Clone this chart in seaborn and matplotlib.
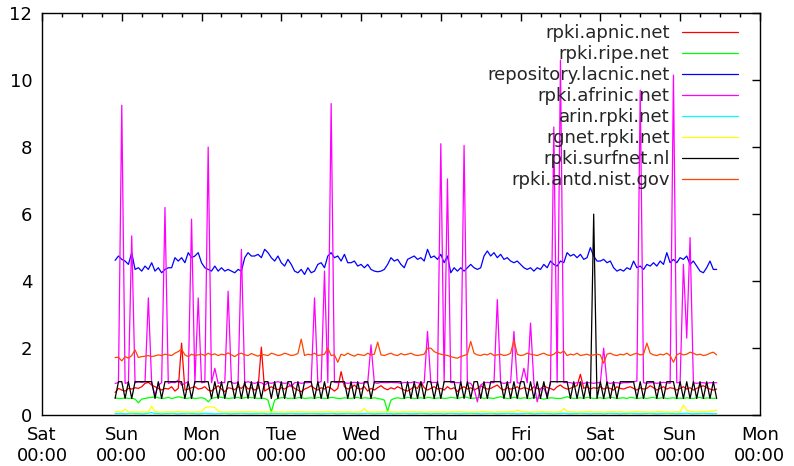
import pandas as pd
import seaborn as sns
import matplotlib.pyplot as plt
import matplotlib.dates as mdates

# hourly samples, Sat 22:00 -> Sun 11:00 of the next week (182 points)
START = "2014-03-01 22:00"

hosts = [
    "rpki.apnic.net",
    "rpki.ripe.net",
    "repository.lacnic.net",
    "rpki.afrinic.net",
    "arin.rpki.net",
    "rgnet.rpki.net",
    "rpki.surfnet.nl",
    "rpki.antd.nist.gov",
]
colors = ["#ff0000", "#00ff00", "#0000ff", "#ff00ff",
          "#00ffff", "#ffff00", "#000000", "#ff4500"]

apnic = [
    0.68, 0.8,
    0.75, 0.72, 0.8, 0.78, 0.82, 0.8, 0.85, 0.95, 0.98, 0.9, 0.85, 0.8,
    0.75, 0.8, 0.78, 0.85, 0.72, 0.8, 2.15, 0.75, 0.78, 0.82, 0.85, 0.78,
    0.8, 0.85, 0.75, 0.72, 0.8, 0.88, 0.78, 0.7, 0.82, 0.8, 0.76, 0.85,
    0.8, 0.9, 0.78, 0.82, 0.75, 0.8, 2.03, 0.72, 0.78, 0.85, 0.8, 0.76,
    0.82, 0.78, 0.85, 0.9, 0.8, 0.75, 0.7, 0.78, 0.82, 0.88, 0.8, 0.75,
    0.82, 0.78, 0.85, 0.8, 0.72, 0.8, 1.3, 0.85, 0.78, 0.82, 0.9, 0.8,
    0.78, 0.85, 0.72, 0.8, 0.75, 0.82, 0.88, 0.8, 0.76, 0.82, 0.78, 0.85,
    0.8, 0.75, 0.72, 0.78, 0.85, 0.8, 1.0, 0.82, 0.75, 0.8, 0.85, 0.78,
    0.8, 0.75, 0.85, 0.78, 0.82, 0.7, 0.8, 0.85, 0.78, 0.82, 0.75, 0.8,
    0.88, 0.82, 0.78, 0.8, 0.85, 0.9, 0.8, 0.75, 0.82, 0.78, 0.8, 0.85,
    0.78, 0.82, 0.8, 0.75, 0.85, 0.8, 0.78, 0.88, 0.82, 0.8, 0.75, 0.85,
    0.9, 0.82, 0.78, 0.8, 0.85, 0.88, 1.22, 0.8, 0.85, 0.78, 0.82, 0.8,
    0.85, 0.78, 0.82, 0.8, 0.75, 0.85, 0.8, 0.78, 0.82, 0.85, 0.8, 0.75,
    0.82, 0.78, 0.8, 0.88, 0.82, 0.75, 0.8, 0.85, 0.78, 0.82, 0.8, 0.75,
    0.8, 0.85, 0.78, 0.82, 0.75, 0.8, 0.85, 0.88, 0.82, 0.78, 0.75, 0.78,
]

ripe = [
    0.52, 0.5,
    0.5, 0.52, 0.5, 0.51, 0.48, 0.37, 0.48, 0.5, 0.52, 0.53, 0.55, 0.52,
    0.5, 0.51, 0.53, 0.5, 0.52, 0.55, 0.53, 0.5, 0.51, 0.52, 0.5, 0.51,
    0.52, 0.5, 0.4, 0.5, 0.52, 0.55, 0.53, 0.52, 0.5, 0.51, 0.52, 0.53,
    0.5, 0.52, 0.54, 0.52, 0.52, 0.5, 0.51, 0.5, 0.45, 0.1, 0.45, 0.5,
    0.52, 0.53, 0.5, 0.51, 0.5, 0.52, 0.53, 0.5, 0.51, 0.52, 0.5, 0.53,
    0.52, 0.5, 0.51, 0.53, 0.52, 0.5, 0.5, 0.52, 0.51, 0.5, 0.52, 0.53,
    0.5, 0.52, 0.51, 0.5, 0.52, 0.5, 0.48, 0.45, 0.12, 0.45, 0.5, 0.52,
    0.5, 0.51, 0.53, 0.52, 0.5, 0.51, 0.52, 0.5, 0.53, 0.52, 0.5, 0.51,
    0.52, 0.5, 0.51, 0.53, 0.52, 0.5, 0.52, 0.55, 0.53, 0.5, 0.51, 0.52,
    0.53, 0.5, 0.52, 0.51, 0.5, 0.53, 0.55, 0.52, 0.5, 0.51, 0.53, 0.52,
    0.5, 0.52, 0.51, 0.5, 0.53, 0.52, 0.5, 0.48, 0.5, 0.52, 0.51, 0.5,
    0.5, 0.52, 0.55, 0.52, 0.5, 0.51, 0.52, 0.5, 0.53, 0.52, 0.5, 0.51,
    0.52, 0.5, 0.51, 0.53, 0.52, 0.5, 0.51, 0.52, 0.5, 0.53, 0.52, 0.5,
    0.51, 0.52, 0.5, 0.52, 0.53, 0.5, 0.51, 0.52, 0.5, 0.51, 0.52, 0.5,
    0.51, 0.5, 0.52, 0.51, 0.5, 0.52, 0.53, 0.5, 0.51, 0.52, 0.5, 0.51,
]

lacnic = [
    4.62, 4.75,
    4.65, 4.6, 4.5, 4.85, 4.35, 4.4, 4.3, 4.45, 4.35, 4.55, 4.3, 4.4,
    4.25, 4.35, 4.4, 4.4, 4.7, 4.6, 4.7, 4.55, 4.85, 4.7, 4.75, 4.85,
    4.55, 4.4, 4.35, 4.3, 4.45, 4.3, 4.4, 4.3, 4.35, 4.3, 4.25, 4.35,
    4.3, 4.7, 4.85, 4.75, 4.75, 4.8, 4.7, 4.95, 4.85, 4.7, 4.6, 4.75,
    4.55, 4.45, 4.65, 4.5, 4.3, 4.25, 4.35, 4.2, 4.4, 4.25, 4.3, 4.5,
    4.55, 4.4, 4.75, 4.85, 4.7, 4.75, 4.6, 4.8, 4.55, 4.55, 4.6, 4.45,
    4.5, 4.4, 4.5, 4.35, 4.3, 4.28, 4.3, 4.35, 4.5, 4.7, 4.6, 4.65,
    4.5, 4.4, 4.65, 4.7, 4.75, 4.65, 4.7, 4.6, 4.95, 4.7, 4.75, 4.65,
    4.8, 4.55, 4.75, 4.25, 4.4, 4.3, 4.4, 4.3, 4.4, 4.5, 4.4, 4.35,
    4.4, 4.75, 4.9, 4.75, 4.85, 4.7, 4.8, 4.65, 4.7, 4.6, 4.55, 4.6,
    4.5, 4.4, 4.35, 4.4, 4.3, 4.4, 4.35, 4.5, 4.4, 4.6, 4.5, 4.45,
    4.6, 4.55, 4.85, 4.75, 4.8, 4.7, 4.8, 4.65, 4.7, 5.0, 4.75, 4.6,
    4.6, 4.65, 4.55, 4.6, 4.4, 4.3, 4.35, 4.3, 4.4, 4.35, 4.6, 4.4,
    4.45, 4.35, 4.5, 4.45, 4.55, 4.45, 4.6, 4.5, 4.85, 4.55, 4.65, 4.55,
    4.7, 4.65, 4.75, 4.5, 4.6, 4.45, 4.3, 4.25, 4.4, 4.6, 4.35, 4.35,
]

afrinic = [
    0.95, 0.97,
    9.25, 0.95, 0.98, 5.35, 0.97, 1.0, 0.98, 1.0, 3.5, 0.95, 0.6, 0.9,
    0.97, 6.2, 0.95, 0.98, 0.97, 1.05, 0.9, 0.95, 1.0, 5.85, 0.95, 3.5,
    0.97, 0.98, 8.0, 0.97, 1.4, 0.95, 0.98, 0.97, 3.7, 0.97, 0.95, 0.98,
    4.95, 0.97, 1.0, 0.97, 0.95, 0.98, 0.97, 0.9, 0.97, 0.95, 0.98, 1.0,
    0.97, 0.95, 0.97, 0.85, 0.97, 0.98, 0.95, 0.97, 0.97, 0.98, 3.5, 0.97,
    1.0, 4.3, 0.97, 9.3, 0.98, 0.97, 1.0, 0.97, 0.95, 0.97, 0.98, 0.97,
    0.95, 0.97, 0.97, 2.1, 0.97, 0.95, 0.98, 0.97, 0.97, 0.98, 0.97, 0.97,
    0.95, 0.98, 0.97, 0.97, 1.0, 0.97, 0.95, 0.97, 2.5, 0.97, 0.98, 0.97,
    8.1, 0.97, 7.05, 0.97, 0.98, 0.97, 0.97, 8.05, 0.97, 0.95, 0.8, 0.4,
    0.9, 0.97, 0.98, 0.97, 0.97, 3.45, 0.97, 0.95, 0.97, 0.97, 2.5, 0.97,
    0.95, 1.4, 0.97, 2.75, 0.97, 0.4, 0.8, 0.8, 0.6, 0.95, 8.6, 0.97,
    10.6, 0.97, 0.98, 0.97, 0.95, 0.97, 0.97, 0.95, 0.97, 0.97, 0.95, 0.97,
    0.97, 2.0, 0.97, 0.95, 0.97, 0.97, 0.95, 0.97, 0.97, 0.98, 1.0, 1.02,
    9.7, 0.97, 0.95, 0.97, 0.97, 0.95, 0.97, 0.98, 0.97, 0.95, 10.15, 0.97,
    0.97, 4.5, 2.3, 5.3, 0.97, 0.95, 0.97, 0.97, 0.95, 0.97, 0.97, 0.97,
]

arin = [
    0.05, 0.05,
    0.05, 0.04, 0.05, 0.06, 0.05, 0.05, 0.04, 0.05, 0.06, 0.08, 0.05, 0.05,
    0.04, 0.05, 0.05, 0.06, 0.05, 0.04, 0.05, 0.05, 0.06, 0.05, 0.05, 0.04,
    0.05, 0.06, 0.05, 0.05, 0.04, 0.05, 0.05, 0.06, 0.05, 0.04, 0.05, 0.05,
    0.06, 0.05, 0.05, 0.04, 0.05, 0.05, 0.06, 0.05, 0.04, 0.05, 0.05, 0.05,
    0.05, 0.04, 0.05, 0.06, 0.05, 0.05, 0.04, 0.05, 0.05, 0.06, 0.05, 0.05,
    0.04, 0.05, 0.05, 0.06, 0.05, 0.04, 0.05, 0.05, 0.06, 0.05, 0.05, 0.04,
    0.05, 0.05, 0.06, 0.05, 0.04, 0.05, 0.05, 0.06, 0.05, 0.05, 0.04, 0.05,
    0.05, 0.06, 0.05, 0.04, 0.05, 0.05, 0.06, 0.05, 0.05, 0.04, 0.05, 0.05,
    0.05, 0.04, 0.05, 0.06, 0.05, 0.05, 0.04, 0.05, 0.05, 0.06, 0.05, 0.05,
    0.04, 0.05, 0.05, 0.06, 0.05, 0.04, 0.05, 0.05, 0.06, 0.05, 0.05, 0.04,
    0.05, 0.05, 0.06, 0.05, 0.04, 0.05, 0.05, 0.06, 0.05, 0.05, 0.04, 0.05,
    0.05, 0.06, 0.05, 0.04, 0.05, 0.05, 0.06, 0.05, 0.05, 0.04, 0.05, 0.05,
    0.05, 0.04, 0.05, 0.06, 0.05, 0.05, 0.04, 0.05, 0.05, 0.06, 0.05, 0.05,
    0.04, 0.05, 0.05, 0.06, 0.05, 0.04, 0.05, 0.05, 0.06, 0.05, 0.05, 0.04,
    0.05, 0.05, 0.06, 0.05, 0.04, 0.05, 0.05, 0.06, 0.05, 0.05, 0.04, 0.05,
]

rgnet = [
    0.1, 0.12,
    0.1, 0.18, 0.1, 0.1, 0.09, 0.1, 0.1, 0.1, 0.1, 0.27, 0.1, 0.1,
    0.09, 0.1, 0.1, 0.1, 0.1, 0.11, 0.1, 0.1, 0.1, 0.09, 0.1, 0.1,
    0.1, 0.22, 0.25, 0.25, 0.23, 0.12, 0.1, 0.1, 0.09, 0.1, 0.1, 0.1,
    0.1, 0.1, 0.11, 0.1, 0.1, 0.1, 0.09, 0.1, 0.1, 0.1, 0.1, 0.1,
    0.1, 0.09, 0.1, 0.1, 0.1, 0.11, 0.1, 0.1, 0.1, 0.09, 0.1, 0.1,
    0.1, 0.1, 0.11, 0.1, 0.09, 0.1, 0.1, 0.1, 0.1, 0.1, 0.09, 0.1,
    0.1, 0.2, 0.1, 0.1, 0.09, 0.1, 0.1, 0.1, 0.11, 0.1, 0.1, 0.09,
    0.1, 0.1, 0.1, 0.1, 0.11, 0.1, 0.1, 0.09, 0.1, 0.1, 0.1, 0.1,
    0.1, 0.1, 0.09, 0.1, 0.1, 0.11, 0.1, 0.1, 0.1, 0.09, 0.1, 0.1,
    0.1, 0.11, 0.1, 0.1, 0.09, 0.1, 0.1, 0.1, 0.1, 0.11, 0.1, 0.15,
    0.12, 0.1, 0.1, 0.09, 0.1, 0.1, 0.11, 0.1, 0.1, 0.1, 0.09, 0.1,
    0.1, 0.2, 0.12, 0.1, 0.1, 0.09, 0.1, 0.1, 0.11, 0.1, 0.1, 0.1,
    0.1, 0.09, 0.1, 0.1, 0.11, 0.1, 0.1, 0.1, 0.09, 0.1, 0.1, 0.11,
    0.1, 0.1, 0.1, 0.09, 0.1, 0.1, 0.11, 0.1, 0.1, 0.09, 0.1, 0.1,
    0.1, 0.3, 0.15, 0.12, 0.1, 0.1, 0.11, 0.1, 0.12, 0.12, 0.13, 0.15,
]

surfnet = [
    0.5, 1.0,
    1.0, 0.5, 1.0, 0.5, 1.0, 1.0, 1.0, 1.0, 1.0, 1.0, 0.5, 1.0,
    0.5, 1.0, 1.0, 1.0, 1.0, 1.0, 1.0, 0.5, 1.0, 0.5, 1.0, 1.0,
    1.0, 1.0, 1.0, 0.5, 1.0, 0.5, 1.0, 0.5, 1.0, 1.0, 0.5, 1.0,
    0.5, 1.0, 0.5, 1.0, 0.5, 1.0, 0.5, 1.0, 1.0, 0.5, 1.0, 0.5,
    1.0, 0.5, 1.0, 1.0, 0.5, 1.0, 0.5, 1.0, 1.0, 1.0, 0.5, 1.0,
    0.5, 1.0, 0.5, 1.0, 1.0, 1.0, 1.0, 1.0, 0.5, 1.0, 0.5, 1.0,
    0.5, 1.0, 1.0, 0.5, 1.0, 1.0, 1.0, 1.0, 1.0, 1.0, 1.0, 1.0,
    1.0, 0.5, 1.0, 0.5, 1.0, 0.5, 1.0, 0.5, 1.0, 1.0, 0.5, 1.0,
    0.5, 1.0, 1.0, 1.0, 1.0, 0.5, 1.0, 0.5, 1.0, 0.5, 1.0, 1.0,
    0.5, 1.0, 0.5, 1.0, 1.0, 1.0, 1.0, 0.5, 1.0, 0.5, 1.0, 0.5,
    1.0, 1.0, 0.5, 1.0, 0.5, 1.0, 0.5, 1.0, 0.5, 1.0, 1.0, 1.0,
    1.0, 1.0, 1.0, 0.5, 1.0, 0.5, 1.0, 0.5, 1.0, 0.5, 6.0, 0.5,
    1.0, 0.5, 1.0, 0.5, 1.0, 0.5, 1.0, 1.0, 1.0, 1.0, 1.0, 0.5,
    1.0, 0.5, 1.0, 1.0, 1.0, 0.5, 1.0, 0.5, 1.0, 1.0, 1.0, 0.5,
    1.0, 0.5, 1.0, 0.5, 1.0, 0.5, 1.0, 0.5, 1.0, 0.5, 1.0, 0.5,
]

nist = [
    1.72, 1.73,
    1.62, 1.75, 1.7, 1.78, 1.95, 1.72, 1.75, 1.76, 1.78, 1.75, 1.77, 1.8,
    1.78, 1.82, 1.8, 1.78, 1.85, 1.9, 1.97, 1.8, 1.75, 1.82, 1.78, 1.8,
    1.82, 1.78, 1.85, 1.8, 1.83, 1.78, 1.82, 1.8, 1.86, 1.8, 1.75, 1.82,
    1.85, 1.8, 1.78, 1.84, 1.8, 1.76, 1.82, 1.8, 1.78, 1.85, 1.82, 1.78,
    1.8, 1.85, 1.82, 1.78, 1.8, 1.84, 2.27, 1.78, 1.82, 1.8, 1.85, 1.78,
    1.8, 1.82, 2.0, 1.78, 1.8, 1.58, 1.82, 1.78, 1.85, 1.8, 1.76, 1.82,
    1.8, 1.78, 1.85, 1.8, 1.82, 2.18, 1.8, 1.78, 1.82, 1.85, 1.8, 1.78,
    1.84, 1.8, 1.82, 1.85, 1.8, 1.78, 1.8, 1.82, 2.0, 2.0, 1.9, 1.85,
    1.82, 1.8, 1.78, 1.75, 1.72, 1.7, 1.75, 1.78, 1.82, 2.2, 1.85, 1.8,
    1.78, 1.82, 1.8, 1.85, 1.78, 1.8, 1.82, 1.78, 1.8, 1.85, 2.24, 1.82,
    1.78, 1.8, 1.85, 1.82, 1.8, 1.78, 1.82, 1.85, 1.8, 1.78, 1.82, 1.9,
    1.85, 1.92, 1.78, 1.82, 1.8, 1.85, 1.78, 1.8, 1.82, 1.78, 1.8, 1.82,
    1.8, 1.55, 1.82, 1.85, 1.8, 1.78, 1.82, 1.8, 1.85, 1.78, 1.82, 1.85,
    1.8, 1.82, 2.15, 1.85, 1.8, 1.78, 1.82, 1.8, 1.85, 1.78, 1.58, 1.8,
    1.85, 1.8, 1.82, 1.88, 1.85, 1.8, 1.82, 1.78, 1.8, 1.85, 1.88, 1.8,
]


def set_config():
    # gnuplot-like look: white background, inward ticks on all sides
    sns.set_style("white")
    plt.rcParams["font.family"] = ["DejaVu Sans"]
    plt.rcParams["font.size"] = 13
    plt.rcParams["axes.edgecolor"] = "black"
    plt.rcParams["axes.linewidth"] = 1.0


def load_frame():
    series = [apnic, ripe, lacnic, afrinic, arin, rgnet, surfnet, nist]
    n = min(len(s) for s in series)
    times = pd.date_range(START, periods=n, freq="h")
    wide = pd.DataFrame({h: s[:n] for h, s in zip(hosts, series)}, index=times)
    wide.index.name = "time"
    return wide.reset_index().melt(id_vars="time", var_name="host", value_name="value")


def draw(df):
    fig = plt.figure(figsize=(7.94, 4.66), dpi=100)
    ax = fig.add_subplot(111)
    fig.subplots_adjust(left=0.0529, right=0.957, top=0.972, bottom=0.109)

    sns.lineplot(data=df, x="time", y="value", hue="host", hue_order=hosts,
                 palette=dict(zip(hosts, colors)), linewidth=0.9,
                 errorbar=None, ax=ax)

    ax.set_xlim(pd.Timestamp("2014-03-01"), pd.Timestamp("2014-03-10"))
    ax.set_ylim(0, 12)
    ax.set_yticks(range(0, 13, 2))
    ax.xaxis.set_major_locator(mdates.DayLocator())
    ax.xaxis.set_minor_locator(mdates.HourLocator(byhour=[6, 12, 18]))
    ax.xaxis.set_major_formatter(mdates.DateFormatter("%a\n%H:%M"))
    ax.set_xlabel("")
    ax.set_ylabel("")

    ax.tick_params(which="both", direction="in", top=True, right=True,
                   width=1, colors="black", labelsize=13)
    ax.tick_params(which="major", length=6)
    ax.tick_params(which="minor", length=3)
    ax.tick_params(axis="x", pad=8)
    ax.tick_params(axis="y", pad=7)
    for sp in ax.spines.values():
        sp.set_visible(True)
        sp.set_color("black")

    # legend: labels right-aligned, sample line to the right (gnuplot key)
    handles, labels = ax.get_legend_handles_labels()
    ax.legend(handles, labels, loc="upper right", bbox_to_anchor=(0.969, 0.973),
              frameon=False, markerfirst=False, handlelength=3.1,
              handletextpad=0.67, labelspacing=0.17, borderpad=0,
              borderaxespad=0, fontsize=13)

    fig.savefig("out.png", dpi=100)


def main():
    set_config()
    df = load_frame()
    draw(df)


if __name__ == "__main__":
    main()
